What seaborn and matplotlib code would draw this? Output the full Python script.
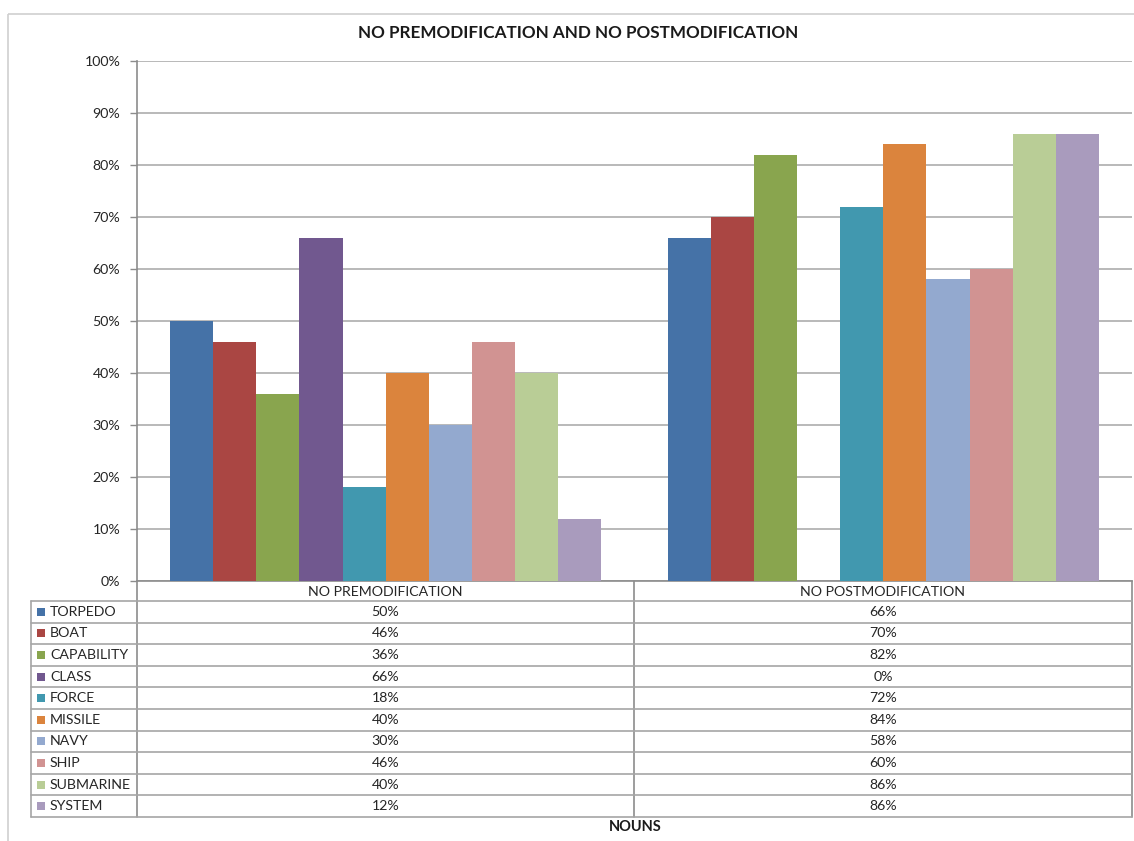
import matplotlib
matplotlib.use("Agg")
import matplotlib.pyplot as plt
import pandas as pd
import seaborn as sns
from matplotlib.patches import Rectangle

# dados
categorias = ["NO PREMODIFICATION", "NO POSTMODIFICATION"]
substantivos = ["TORPEDO", "BOAT", "CAPABILITY", "CLASS", "FORCE",
                "MISSILE", "NAVY", "SHIP", "SUBMARINE", "SYSTEM"]
valores_pre = [50, 46, 36, 66, 18, 40, 30, 46, 40, 12]
valores_post = [66, 70, 82, 0, 72, 84, 58, 60, 86, 86]
cores = ["#4572A7", "#AA4643", "#89A54E", "#71588F", "#4198AF",
         "#DB843D", "#93A9CF", "#D19392", "#B9CD96", "#A99BBD"]

df = pd.DataFrame({
    "categoria": [categorias[0]] * len(substantivos) + [categorias[1]] * len(substantivos),
    "substantivo": substantivos * 2,
    "valor": valores_pre + valores_post,
})

W, H = 1134, 841
sns.set_theme(style="white")
plt.rcParams["font.family"] = ["Lato", "DejaVu Sans"]

fig = plt.figure(figsize=(W / 100, H / 100), dpi=100)


def caixa(x0, y0, x1, y1):
    return [x0 / W, 1 - y1 / H, (x1 - x0) / W, (y1 - y0) / H]


# camada de fundo em pixeis: moldura, tabela e textos
fundo = fig.add_axes([0, 0, 1, 1])
fundo.set_xlim(0, W)
fundo.set_ylim(H, 0)
fundo.axis("off")
fundo.add_patch(Rectangle((8, 14), W, H, fill=False, edgecolor="#D0D0D0", lw=1.2))

fundo.text(578, 33, "NO PREMODIFICATION AND NO POSTMODIFICATION",
           ha="center", va="center", fontsize=12.3, fontweight="bold", color="#1a1a1a")
fundo.text(635, 827, "NOUNS", ha="center", va="center",
           fontsize=10.5, fontweight="bold", color="#1a1a1a")

# tabela de dados
x_esq, x_lab, x_mid, x_dir = 31, 137, 634, 1132
y_top, y_cab = 581, 601
altura = 21.6
y_fim = y_cab + altura * len(substantivos)
cor_linha = "#A6A6A6"
fs = 10.2

for x in (x_lab, x_mid, x_dir):
    fundo.plot([x, x], [y_top, y_fim], color="#8C8C8C", lw=1.2)
fundo.plot([x_esq, x_esq], [y_cab, y_fim], color=cor_linha, lw=1.2)
for i in range(len(substantivos) + 1):
    y = y_cab + altura * i
    fundo.plot([x_esq, x_dir], [y, y], color=cor_linha, lw=1.2)

centros = [(x_lab + x_mid) / 2, (x_mid + x_dir) / 2]
for c, nome in zip(centros, categorias):
    fundo.text(c, (y_top + y_cab) / 2 + 1, nome, ha="center", va="center",
               fontsize=fs, color="#262626")

for i, nome in enumerate(substantivos):
    yc = y_cab + altura * (i + 0.5)
    fundo.add_patch(Rectangle((37, yc - 4), 8, 8, color=cores[i], lw=0))
    fundo.text(50, yc, nome, ha="left", va="center", fontsize=fs, color="#262626")
    fundo.text(centros[0], yc, f"{valores_pre[i]}%", ha="center", va="center",
               fontsize=fs, color="#262626")
    fundo.text(centros[1], yc, f"{valores_post[i]}%", ha="center", va="center",
               fontsize=fs, color="#262626")

# grafico de barras
ax = fig.add_axes(caixa(137, 61, 1132, 581))
ax.patch.set_alpha(0)
sns.barplot(data=df, x="categoria", y="valor", hue="substantivo",
            palette=cores, width=0.867, saturation=1, linewidth=0,
            legend=False, ax=ax, zorder=3)

ax.set_xlim(-0.5, 1.5)
ax.set_ylim(0, 100)
ax.set_yticks(range(0, 101, 10))
ax.set_yticklabels([f"{v}%" for v in range(0, 101, 10)], fontsize=fs, color="#262626")
ax.set_xticks([])
ax.set_xlabel("")
ax.set_ylabel("")
ax.grid(axis="y", color="#A6A6A6", lw=1.1, zorder=0)
ax.set_axisbelow(True)
ax.tick_params(axis="y", length=5, width=1, color="#8C8C8C", left=True, pad=7)
for lado in ("top", "right"):
    ax.spines[lado].set_visible(False)
ax.spines["left"].set_color("#8C8C8C")
ax.spines["bottom"].set_color("#8C8C8C")
ax.spines["left"].set_linewidth(1.2)
ax.spines["bottom"].set_linewidth(1.2)

fig.savefig("out.png", dpi=100)
